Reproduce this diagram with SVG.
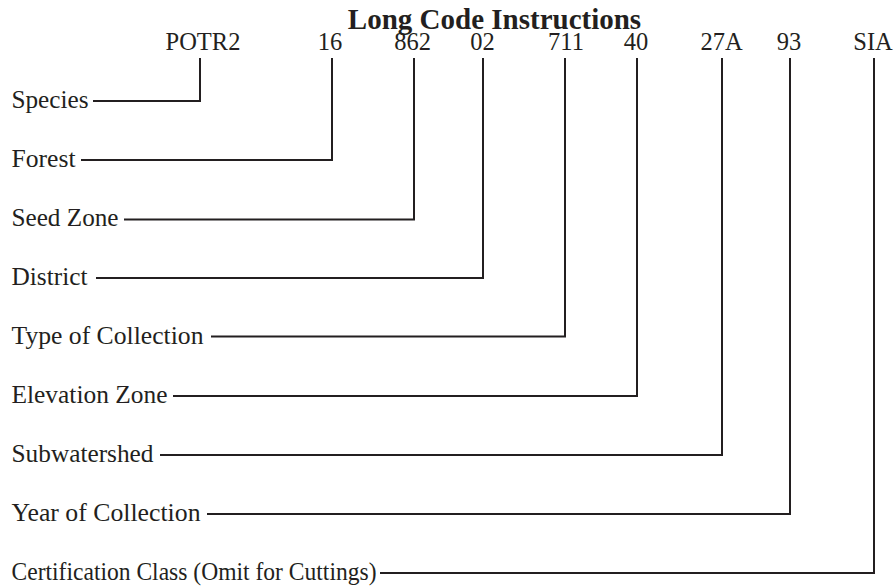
<svg xmlns="http://www.w3.org/2000/svg" width="895" height="586" viewBox="0 0 895 586">
<style>
text{font-family:"Liberation Serif","Times New Roman",serif;fill:#231f20}
.t{font-size:29px;font-weight:bold}
.c{font-size:24.5px;text-anchor:middle}
.l{font-size:24.5px}
.k{fill:none;stroke:#231f20;stroke-width:2}
</style>
<rect width="895" height="586" fill="#fff"/>
<text class="t" x="494.5" y="28.5" text-anchor="middle">Long Code Instructions</text>
<g id="codes">
<text class="c" x="203" y="50">POTR2</text>
<text class="c" x="330" y="50">16</text>
<text class="c" x="412.5" y="50">862</text>
<text class="c" x="482.5" y="50">02</text>
<text class="c" x="566" y="50">711</text>
<text class="c" x="636" y="50">40</text>
<text class="c" x="721.5" y="50">27A</text>
<text class="c" x="789" y="50">93</text>
<text class="c" x="873" y="50">SIA</text>
</g>
<g id="n-species"><text class="l" x="11.5" y="108" textLength="77" lengthAdjust="spacingAndGlyphs">Species</text></g>
<g id="n-forest"><text class="l" x="11.5" y="167" textLength="64" lengthAdjust="spacingAndGlyphs">Forest</text></g>
<g id="n-seedzone"><text class="l" x="11.5" y="226" textLength="107" lengthAdjust="spacingAndGlyphs">Seed Zone</text></g>
<g id="n-district"><text class="l" x="11.5" y="285" textLength="76" lengthAdjust="spacingAndGlyphs">District</text></g>
<g id="n-type"><text class="l" x="11.5" y="344" textLength="192" lengthAdjust="spacingAndGlyphs">Type of Collection</text></g>
<g id="n-elev"><text class="l" x="11.5" y="403" textLength="156" lengthAdjust="spacingAndGlyphs">Elevation Zone</text></g>
<g id="n-subw"><text class="l" x="11.5" y="462" textLength="142" lengthAdjust="spacingAndGlyphs">Subwatershed</text></g>
<g id="n-year"><text class="l" x="11.5" y="521" textLength="189" lengthAdjust="spacingAndGlyphs">Year of Collection</text></g>
<g id="n-cert"><text class="l" x="11.5" y="580" textLength="365" lengthAdjust="spacingAndGlyphs">Certification Class (Omit for Cuttings)</text></g>
<g id="connectors">
<polyline class="k" points="93,101 200,101 200,58"/>
<polyline class="k" points="81,160 332,160 332,58"/>
<polyline class="k" points="124,219.5 414,219.5 414,58"/>
<polyline class="k" points="96,278 483,278 483,58"/>
<polyline class="k" points="211,336.5 565,336.5 565,58"/>
<polyline class="k" points="173,396 637,396 637,58"/>
<polyline class="k" points="160,455 722,455 722,58"/>
<polyline class="k" points="207,514 790,514 790,58"/>
<polyline class="k" points="380,573 874,573 874,58"/>
</g>
</svg>
